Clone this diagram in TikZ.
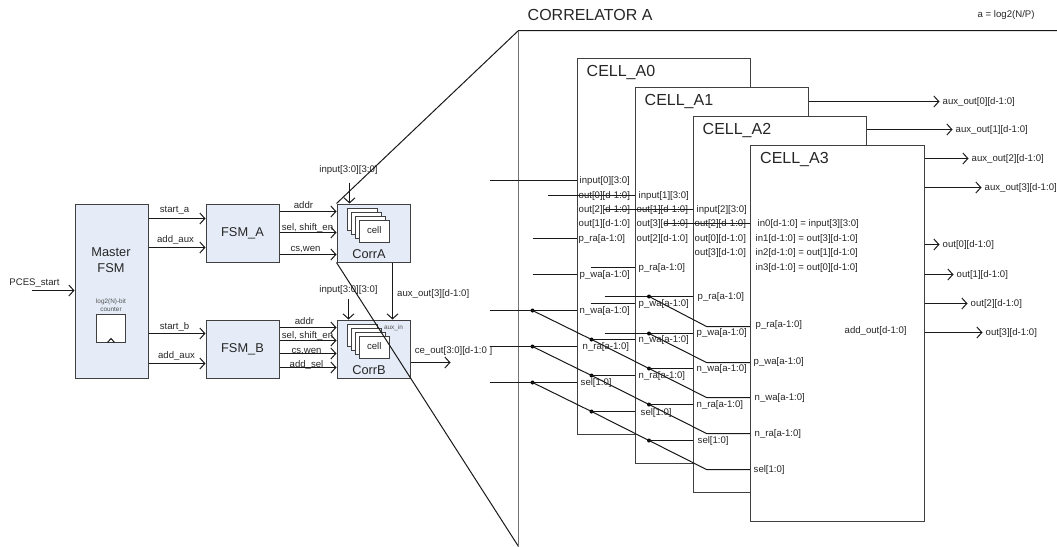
\documentclass[tikz,border=0pt]{standalone}
\usepackage{fontspec}
\setmainfont{Liberation Sans}
\usetikzlibrary{positioning,arrows.meta}
\definecolor{blkfill}{HTML}{E5ECF7}
\definecolor{edgegray}{HTML}{404040}
\definecolor{txtgray}{HTML}{262626}
\begin{document}
\begin{tikzpicture}[
    x=1pt, y=-1pt, shift={(0.5pt,-0.5pt)},
    blk/.style={draw=edgegray, fill=blkfill, line width=1pt, inner sep=0pt, minimum width=73pt},
    cellbox/.style={draw=edgegray, fill=white, line width=1.2pt, anchor=north west, minimum width=173.5pt, minimum height=376pt},
    minicell/.style={draw=edgegray, fill=white, line width=0.9pt, anchor=north west, minimum width=30.5pt, minimum height=22pt},
    lbl/.style={font=\fontsize{9.6}{11}\selectfont, text=txtgray, inner sep=0pt, text height=7pt, text depth=2pt},
    pin/.style={lbl, anchor=west},
    title/.style={font=\fontsize{12.8}{15.6}\selectfont, text=txtgray, inner sep=0pt, align=center},
    big/.style={font=\fontsize{16}{18}\selectfont, text=txtgray, inner sep=0pt, anchor=west},
    tiny/.style={font=\fontsize{6.4}{8}\selectfont, text=txtgray!80, inner sep=0pt},
    wire/.style={line width=1pt, draw=black!90},
    arr/.style={wire, -{Straight Barb[length=5pt, width=11pt]}},
    tap/.style={circle, fill=black, inner sep=0pt, minimum size=4pt}
  ]
    \useasboundingbox (-0.5,-0.5) rectangle (1056.5,545.5);

    % left half: controllers
    \node[blk, anchor=north west, minimum height=174pt] (master) at (74,203) {};
    \node[blk, minimum height=58pt, right=57pt of master.north east, anchor=north west] (fsma) {};
    \node[blk, minimum height=58pt, right=57pt of fsma.north east, anchor=north west] (corra) {};
    \node[blk, minimum height=58pt, right=57pt of master.south east, anchor=south west] (fsmb) {};
    \node[blk, minimum height=58pt, right=57pt of fsmb.south east, anchor=south west] (corrb) {};
    \node[title] (masterlbl) at (110.5,259.5) {Master\\FSM};
    \node[title] (fsmalbl) at (fsma) {FSM\_A};
    \node[title] (fsmblbl) at (fsmb) {FSM\_B};
    \node[title] (corralbl) at (368.5,254) {CorrA};
    \node[title] (corrblbl) at (368.5,370) {CorrB};

    \node[draw=edgegray, line width=0.9pt, fill=white, minimum width=29pt, minimum height=28pt, inner sep=0pt] (counter) at (110.5,328) {};
    \coordinate (clka) at (107,342);
    \coordinate (clkb) at (110.5,338);
    \coordinate (clkc) at (114,342);
    \draw[wire] (clka) -- (clkb) -- (clkc);
    \node[tiny, align=center, above=2pt of counter] (counterlbl) {log2(N)-bit\\counter};

    \foreach \c/\yo in {a/203, b/319} {
      \foreach \i in {0,...,3}
        \node[minicell] (cell\c\i) at ({346+4*\i},{\yo+4+4*\i}) {};
      \node[lbl] (celllbl\c) at (cell\c3) {cell};
    }
    \node[tiny] (auxin) at (393,327) {aux\_in};

    \coordinate (pcesin) at (31,290);
    \draw[arr] (pcesin) -- (master.west |- 0,290);
    \node[lbl] (pceslbl) at (34,282) {PCES\_start};

    \foreach \n/\txt/\y/\ly/\lx/\dst in {sa/start\_a/218/209/174/fsma, aa/add\_aux/247/239/175/fsma,
        sb/start\_b/333/326/174/fsmb, ab/add\_aux/363/355/176/fsmb} {
      \draw[arr] (master.east |- 0,\y) -- (\dst.west |- 0,\y);
      \node[lbl] (l\n) at (\lx,\ly) {\txt};
    }
    \foreach \n/\txt/\y/\ly/\lx/\src/\dst in {aaddr/addr/211/205/303/fsma/corra, asel/{sel, shift\_en}/232/227/307/fsma/corra,
        acs/{cs,wen}/254/248/305/fsma/corra, baddr/addr/327/321/304/fsmb/corrb, bsel/{sel, shift\_en}/340/335/307/fsmb/corrb,
        bcs/{cs,wen}/353/350/306/fsmb/corrb, badd/add\_sel/367/364/306/fsmb/corrb} {
      \draw[arr] (\src.east |- 0,\y) -- (\dst.west |- 0,\y);
      \node[lbl] (l\n) at (\lx,\ly) {\txt};
    }

    \coordinate (inpa) at (349,182);
    \coordinate (inpb) at (348,298);
    \draw[arr] (inpa) -- (corra.north -| inpa);
    \draw[arr] (inpb) -- (corrb.north -| inpb);
    \node[lbl] (inpalbl) at (348,169) {input[3:0][3:0]};
    \node[lbl] (inpblbl) at (348,289) {input[3:0][3:0]};
    \draw[arr] (corra.south -| 392,0) -- (corrb.north -| 392,0);
    \node[pin] (auxlbl) at (396.5,293) {aux\_out[3][d-1:0]};
    \node[lbl] (celbl) at (453,350) {ce\_out[3:0][d-1:0 ]};
    \coordinate (ceend) at (450,362);
    \draw[arr] (corrb.east |- ceend) -- (ceend);

    % right half: the four cells
    \foreach \i/\x/\y in {0/576/57, 1/634/86, 2/692/115, 3/749.5/144} {
      \node[cellbox] (cell\i) at (\x,\y) {};
      \node[big] (celllbl\i) at ({\x+10},{\y+15.5}) {CELL\_A\i};
    }

    \coordinate (zoomtop) at (518,30);
    \coordinate (zoombot) at (518,546);
    \coordinate (zoomrt) at (1057,30);
    \draw[wire] (corra.north west) -- (zoomtop) -- (zoomrt);
    \draw[wire] (corra.south west) -- (zoombot);
    \draw[draw=black!55, line width=1.5pt] (zoomtop) -- (zoombot);
    \node[big] (corrtitle) at (527,14.5) {CORRELATOR A};
    \node[pin] (logdef) at (977,14) {a = log2(N/P)};

    % stubs on the cells
    \foreach \n/\x/\y/\c in {ia/489/180/0, ob/547/195/1, oc/603/209/2, od/663/223/3, pra/532/238/0, pwa/532/274/0,
        prb/590/267/1, pwb/590/303/1, prc/604/296/2, pwc/604/333/2} {
      \coordinate (s\n) at (\x,\y);
      \draw[wire] (s\n) -- (cell\c.west |- s\n);
    }

    % buses that step across the cells
    \foreach \n/\a/\b/\c/\d in {nwa/310/339/368/397, nra/346/375/404/433, sel/382/411/440/469} {
      \coordinate (\n in) at (489,\a);
      \node[tap] (\n0) at (532,\a) {};
      \node[tap] (\n1) at (591,\b) {};
      \node[tap] (\n2) at (648.5,\c) {};
      \coordinate (\n knee) at (706,\d);
      \draw[wire] (\n in) -- (cell0.west |- \n in);
      \draw[wire] (\n1.center) -- (cell1.west |- \n1);
      \draw[wire] (\n2.center) -- (cell2.west |- \n2);
      \draw[wire] (\n0.center) -- (\n1.center) -- (\n2.center) -- (\n knee) -- (cell3.west |- \n knee);
    }
    \foreach \n/\a/\b in {pr/296/326, pw/333/362} {
      \node[tap] (\n top) at (648.5,\a) {};
      \coordinate (\n knee) at (706,\b);
      \draw[wire] (\n top.center) -- (\n knee) -- (cell3.west |- \n knee);
    }

    % pin names
    \foreach \n/\x/\y/\txt in {
        a/579/180/input[0][3:0], b/578/195/out[0][d-1:0], c/578/209/out[2][d-1:0], d/578/223/out[1][d-1:0],
        e/578/238/p\_ra[a-1:0], f/579/274/p\_wa[a-1:0], g/579/310/n\_wa[a-1:0], h/582/346/n\_ra[a-1:0], i/580/382/sel[1:0],
        j/638/195/input[1][3:0], k/636/209/out[1][d-1:0], l/636/223/out[3][d-1:0], m/636/238/out[2][d-1:0],
        n/638/267/p\_ra[a-1:0], o/638/303/p\_wa[a-1:0], p/638/339/n\_wa[a-1:0], q/638/375/n\_ra[a-1:0], r/640/412/sel[1:0],
        s/696/209/input[2][3:0], t/694/223/out[2][d-1:0], u/694/238/out[0][d-1:0], v/694/252/out[3][d-1:0],
        w/697/296/p\_ra[a-1:0], x/696/332/p\_wa[a-1:0], y/696/368/n\_wa[a-1:0], z/696/404/n\_ra[a-1:0], zz/697/440/sel[1:0],
        aa/757/223/{in0[d-1:0] = input[3][3:0]}, ab/755/238/{in1[d-1:0] = out[3][d-1:0]},
        ac/755/252/{in2[d-1:0] = out[1][d-1:0]}, ad/755/267/{in3[d-1:0] = out[0][d-1:0]},
        ae/755/324/p\_ra[a-1:0], af/753/361/p\_wa[a-1:0], ag/754/397/n\_wa[a-1:0], ah/754/433/n\_ra[a-1:0], ai/753/469/sel[1:0],
        aj/844/330/add\_out[d-1:0]}
      \node[pin] (pin\n) at (\x,\y) {\txt};

    % outputs
    \foreach \n/\lx/\y/\src/\txt in {
        xa/942/101/1/aux\_out[0][d-1:0], xb/955/129/2/aux\_out[1][d-1:0],
        xc/971/158/3/aux\_out[2][d-1:0], xd/984/187/3/aux\_out[3][d-1:0],
        ya/942/244/3/out[0][d-1:0], yb/956/274/3/out[1][d-1:0],
        yc/970/303/3/out[2][d-1:0], yd/985/332/3/out[3][d-1:0]} {
      \node[pin] (\n) at (\lx,\y) {\txt};
      \draw[arr] (cell\src.east |- \n) -- ([xshift=-3pt]\n.west);
    }
  \end{tikzpicture}
\end{document}
